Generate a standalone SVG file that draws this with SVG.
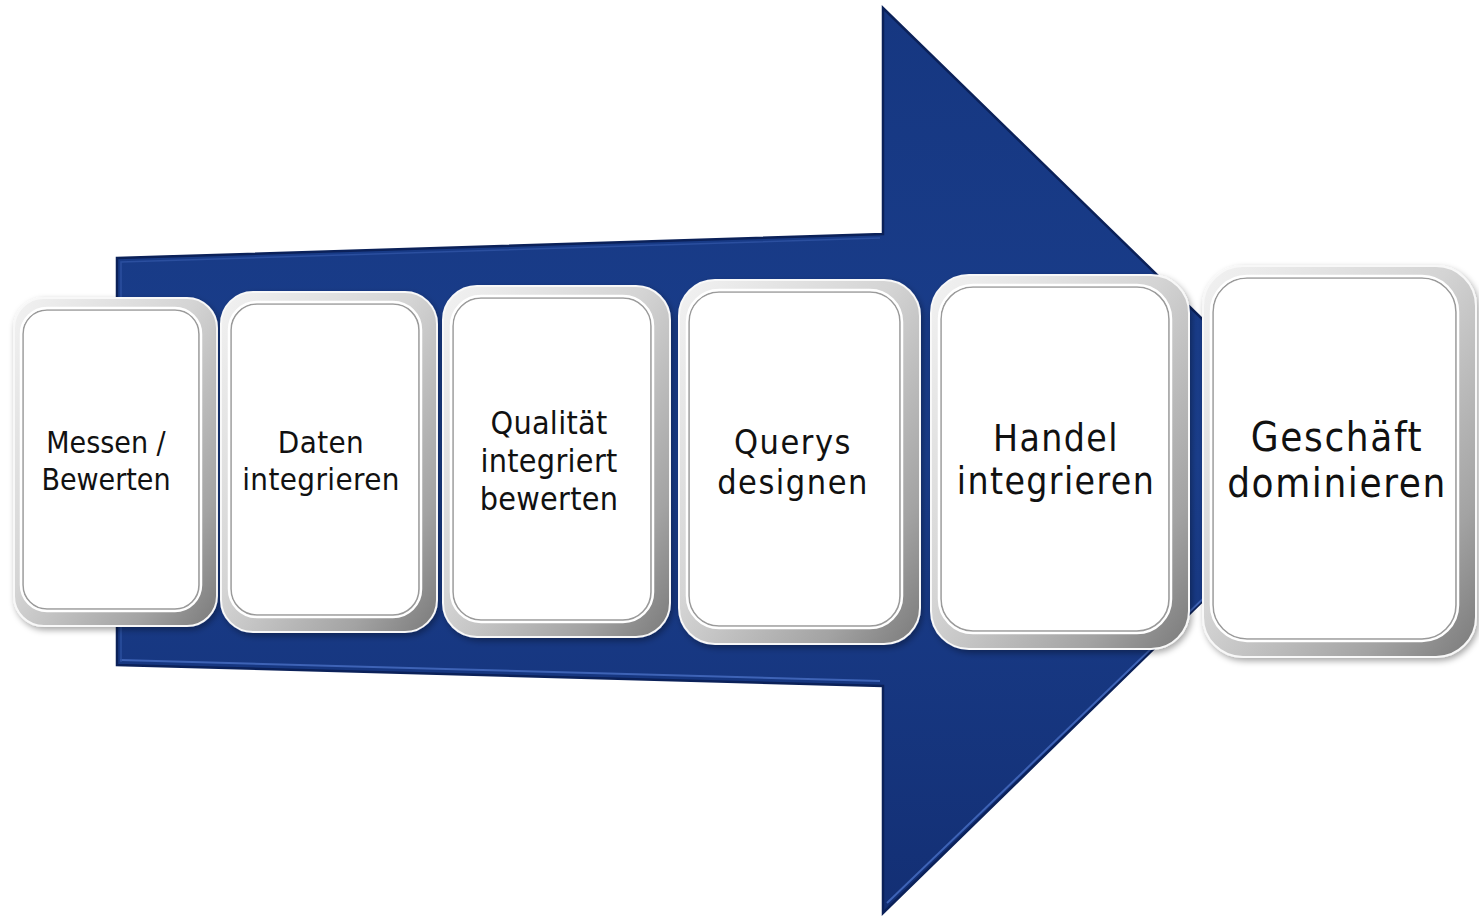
<svg xmlns="http://www.w3.org/2000/svg" width="1479" height="916" viewBox="0 0 1479 916">
  <defs>
    <linearGradient id="arrowFill" x1="0" y1="0" x2="0" y2="1">
      <stop offset="0" stop-color="#163781"/>
      <stop offset="0.5" stop-color="#1a3e8c"/>
      <stop offset="1" stop-color="#132f74"/>
    </linearGradient>
    <linearGradient id="bevel" x1="0" y1="0" x2="1" y2="1">
      <stop offset="0" stop-color="#f2f2f2"/>
      <stop offset="0.45" stop-color="#d4d4d4"/>
      <stop offset="0.8" stop-color="#a3a3a3"/>
      <stop offset="1" stop-color="#7a7a7a"/>
    </linearGradient>
    <filter id="shadow" x="-10%" y="-10%" width="125%" height="125%">
      <feDropShadow dx="2" dy="3" stdDeviation="3" flood-color="#000" flood-opacity="0.35"/>
    </filter>
  </defs>
  <style>
    .outer { fill: url(#bevel); stroke: #f8f8f8; stroke-width: 2; filter: url(#shadow); }
    .inner { fill: #ffffff; stroke: #9a9a9a; stroke-width: 1.6; }
    .rim { fill: none; stroke: #ffffff; stroke-width: 2.5; }
    .label { font-family: "DejaVu Sans Condensed", "DejaVu Sans", sans-serif; font-stretch: condensed; fill: #111111; text-anchor: middle; }
  </style>

  <rect x="0" y="0" width="1479" height="916" fill="#ffffff"/>

  <g id="arrow-background">
    <polygon points="117,258 883,234 883,8 1347,460 883,913 883,686 117,665" fill="url(#arrowFill)" stroke="#0b2159" stroke-width="2.5" stroke-linejoin="miter"/>
    <polyline points="120,660 880,681" fill="none" stroke="#3e63b6" stroke-width="2"/>
    <polyline points="887,903 1345,462" fill="none" stroke="#3e63b6" stroke-width="2"/>
    <polyline points="121,662 121,262 880,238" fill="none" stroke="#2b4f9f" stroke-width="1.5"/>
  </g>

  <g id="connectors"></g>

  <g id="node-messen">
    <rect class="outer" x="14" y="298" width="203" height="328" rx="30"/>
    <rect class="inner" x="23" y="310" width="176" height="299" rx="24"/>
    <rect class="rim" x="21" y="308" width="180" height="303" rx="26"/>
    <text class="label" font-size="30"><tspan x="106" y="453">Messen /</tspan><tspan x="106" y="490">Bewerten</tspan></text>
  </g>

  <g id="node-daten">
    <rect class="outer" x="221" y="292" width="216" height="340" rx="32"/>
    <rect class="inner" x="231" y="304" width="188" height="311" rx="26"/>
    <rect class="rim" x="229" y="302" width="192" height="315" rx="28"/>
    <text class="label" font-size="31" letter-spacing="0.4"><tspan x="321" y="453">Daten</tspan><tspan x="321" y="490">integrieren</tspan></text>
  </g>

  <g id="node-qualitaet">
    <rect class="outer" x="443" y="286" width="227" height="351" rx="34"/>
    <rect class="inner" x="453" y="298" width="198" height="322" rx="28"/>
    <rect class="rim" x="451" y="296" width="202" height="326" rx="30"/>
    <text class="label" font-size="32" letter-spacing="0.3"><tspan x="549" y="434">Qualität</tspan><tspan x="549" y="472">integriert</tspan><tspan x="549" y="510">bewerten</tspan></text>
  </g>

  <g id="node-querys">
    <rect class="outer" x="679" y="280" width="241" height="364" rx="36"/>
    <rect class="inner" x="689" y="292" width="211" height="334" rx="30"/>
    <rect class="rim" x="687" y="290" width="215" height="338" rx="32"/>
    <text class="label" font-size="34" letter-spacing="1.5"><tspan x="793" y="454">Querys</tspan><tspan x="793" y="494">designen</tspan></text>
  </g>

  <g id="node-handel">
    <rect class="outer" x="931" y="275" width="258" height="374" rx="38"/>
    <rect class="inner" x="941" y="287" width="228" height="344" rx="32"/>
    <rect class="rim" x="939" y="285" width="232" height="348" rx="34"/>
    <text class="label" font-size="37" letter-spacing="1.4"><tspan x="1056" y="451">Handel</tspan><tspan x="1056" y="494">integrieren</tspan></text>
  </g>

  <g id="node-geschaeft">
    <rect class="outer" x="1203" y="266" width="273" height="391" rx="40"/>
    <rect class="inner" x="1213" y="278" width="243" height="361" rx="34"/>
    <rect class="rim" x="1211" y="276" width="247" height="365" rx="36"/>
    <text class="label" font-size="40" letter-spacing="1.6"><tspan x="1337" y="451">Geschäft</tspan><tspan x="1337" y="497">dominieren</tspan></text>
  </g>
</svg>
